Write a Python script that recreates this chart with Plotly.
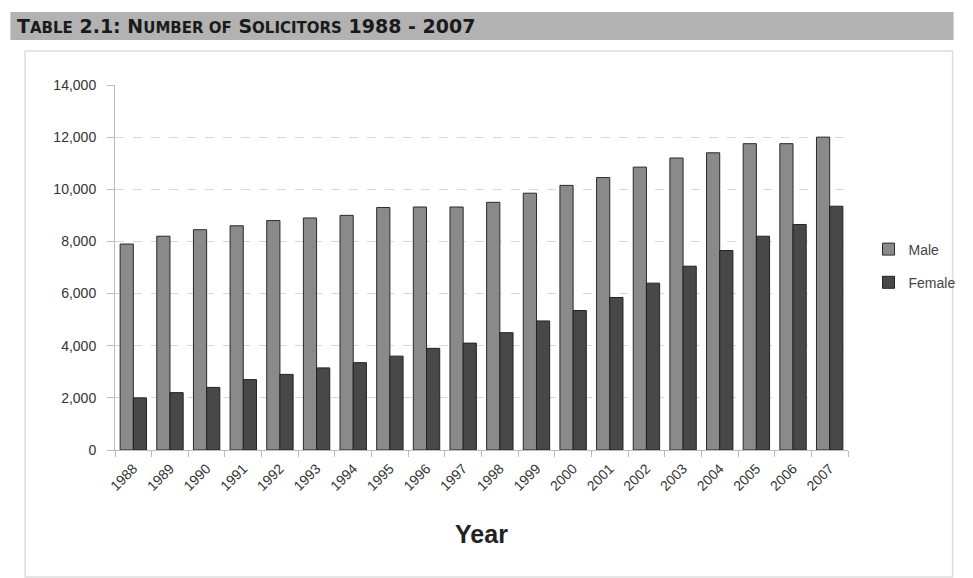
import plotly.graph_objects as go

years = [str(y) for y in range(1988, 2008)]
male = [7900, 8200, 8450, 8600, 8800, 8900, 9000, 9300, 9320, 9320,
        9500, 9850, 10150, 10450, 10850, 11200, 11400, 11750, 11750, 12000]
female = [2000, 2200, 2400, 2700, 2900, 3150, 3350, 3600, 3900, 4100,
          4500, 4950, 5350, 5850, 6400, 7050, 7650, 8200, 8650, 9350]
y_ticks = [0, 2000, 4000, 6000, 8000, 10000, 12000, 14000]

fig = go.Figure()
fig.add_trace(go.Bar(name="Male", x=years, y=male, legendgroup="m",
                     marker=dict(color="#8a8a8a", line=dict(color="#2a2a2a", width=1))))
fig.add_trace(go.Bar(name="Female", x=years, y=female, legendgroup="f",
                     marker=dict(color="#484848", line=dict(color="#222222", width=1))))

# page has an 8px body margin; screen coords below
OFF = 8
W, H = 973 - OFF, 578 - OFF
PL, PR, PT, PB = 115, 865, 85, 450  # plot area in screen pixels
L, R, T, B = PL - OFF, 973 - PR, PT - OFF, 578 - PB
pw, ph = PR - PL, PB - PT

def px_x(p):
    return (p - PL) / pw

def px_y(p):
    return (PB - p) / ph

fig.update_layout(
    width=W, height=H,
    margin=dict(l=L, r=R, t=T, b=B),
    paper_bgcolor="white", plot_bgcolor="white",
    barmode="group", bargap=0.28, bargroupgap=0,
    font=dict(family="Liberation Sans, Arial, sans-serif", color="#333333", size=13),
    showlegend=True,
    legend=dict(x=px_x(886), y=px_y(266), xanchor="left", yanchor="middle",
                font=dict(size=14, color="#444444"), tracegroupgap=12,
                traceorder="grouped", itemwidth=30,
                bgcolor="rgba(0,0,0,0)"),
    shapes=[
        dict(type="rect", xref="paper", yref="paper",
             x0=px_x(8), x1=px_x(973), y0=px_y(40), y1=px_y(12),
             fillcolor="#b2b2b2", line=dict(width=0), layer="below"),
        dict(type="rect", xref="paper", yref="paper",
             x0=px_x(23), x1=px_x(972), y0=px_y(577), y1=px_y(51),
             fillcolor="rgba(0,0,0,0)", line=dict(color="#dddddd", width=1.5), layer="below"),
    ],
    annotations=[
        dict(text="<b>T<span style='font-size:15px'>ABLE</span> 2.1: N<span style='font-size:15px'>UMBER OF</span> S<span style='font-size:15px'>OLICITORS</span> 1988 - 2007</b>",
             xref="paper", yref="paper", x=px_x(13), y=px_y(26),
             xanchor="left", yanchor="middle", showarrow=False,
             font=dict(size=19, color="#1a1a1a", family="DejaVu Sans, sans-serif")),
    ],
)

fig.update_xaxes(
    type="category", tickangle=-45, tickfont=dict(size=14, color="#333333"),
    showline=True, linecolor="#bbbbbb", linewidth=1,
    ticks="outside", ticklen=6, tickcolor="#bbbbbb", tickson="boundaries",
    ticklabelstandoff=4,
    showgrid=False,
    title=dict(text="<b>Year</b>", font=dict(size=25, color="#222222"), standoff=32),
)
fig.update_yaxes(
    range=[0, 14000], tickvals=y_ticks, tickformat=",",
    tickfont=dict(size=14, color="#333333"),
    showline=True, linecolor="#bbbbbb", linewidth=1,
    ticks="outside", ticklen=7, tickcolor="#bbbbbb", ticklabelstandoff=8,
    showgrid=True, gridcolor="#d8d8d8", griddash="dash", gridwidth=1,
    zeroline=False,
)

fig.write_html("out.html")
